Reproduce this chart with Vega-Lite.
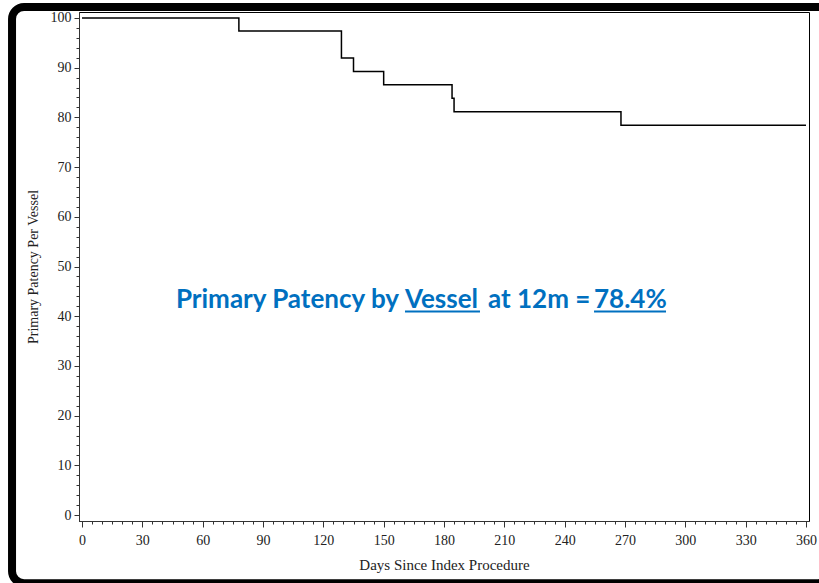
{
  "$schema": "https://vega.github.io/schema/vega-lite/v6.json",
  "width": 730,
  "height": 509,
  "autosize": {"type": "none"},
  "padding": {"left": 79, "top": 12, "right": 10, "bottom": 62},
  "background": "white",
  "resolve": {"axis": {"x": "independent", "y": "independent"}},
  "config": {
    "view": {"stroke": "black", "strokeWidth": 1},
    "axis": {
      "labelFont": "Liberation Serif",
      "titleFont": "Liberation Serif",
      "labelFontSize": 14,
      "titleFontSize": 14,
      "titleFontWeight": "normal",
      "labelColor": "#222",
      "titleColor": "#222",
      "domainColor": "#333",
      "tickColor": "#333",
      "grid": false
    }
  },
  "datasets": {
    "km": [
      {"day": 0, "pct": 100},
      {"day": 78, "pct": 97.37},
      {"day": 129, "pct": 91.96},
      {"day": 135, "pct": 89.25},
      {"day": 150, "pct": 86.55},
      {"day": 184, "pct": 83.84},
      {"day": 185, "pct": 81.14},
      {"day": 268, "pct": 78.4},
      {"day": 360, "pct": 78.4}
    ],
    "label": [
      {"seg": "Primary Patency by", "day": 46.7, "pct": 41.65},
      {"seg": "Vessel", "day": 160.6, "pct": 41.65},
      {"seg": "at 12m =", "day": 201.9, "pct": 41.65},
      {"seg": "78.4%", "day": 254.6, "pct": 41.65}
    ],
    "underline": [
      {"day": 160.6, "day2": 197.9, "pct": 40.95},
      {"day": 254.6, "day2": 290.4, "pct": 40.95}
    ]
  },
  "layer": [
    {
      "data": {"name": "km"},
      "mark": {"type": "line", "opacity": 0},
      "encoding": {
        "x": {
          "field": "day", "type": "quantitative",
          "scale": {"domain": [-1.5, 361.5], "nice": false, "zero": false},
          "axis": {
            "orient": "bottom",
            "title": null,
            "domain": false,
            "labels": false,
            "values": [5,10,15,20,25,35,40,45,50,55,65,70,75,80,85,95,100,105,110,115,125,130,135,140,145,155,160,165,170,175,185,190,195,200,205,215,220,225,230,235,245,250,255,260,265,275,280,285,290,295,305,310,315,320,325,335,340,345,350,355],
            "tickSize": 3
          }
        },
        "y": {
          "field": "pct", "type": "quantitative",
          "scale": {"domain": [-1.2, 101.2], "nice": false, "zero": false},
          "axis": {
            "orient": "left",
            "title": null,
            "domain": false,
            "labels": false,
            "values": [2,4,6,8,12,14,16,18,22,24,26,28,32,34,36,38,42,44,46,48,52,54,56,58,62,64,66,68,72,74,76,78,82,84,86,88,92,94,96,98],
            "tickSize": 3
          }
        }
      }
    },
    {
      "data": {"name": "km"},
      "mark": {"type": "line", "interpolate": "step-after", "color": "black", "strokeWidth": 1.5},
      "encoding": {
        "x": {
          "field": "day", "type": "quantitative",
          "axis": {
            "orient": "bottom",
            "title": "Days Since Index Procedure",
            "titleFontSize": 15,
            "values": [0,30,60,90,120,150,180,210,240,270,300,330,360],
            "labelFlush": false,
            "tickSize": 6,
            "labelPadding": 6,
            "titlePadding": 10
          }
        },
        "y": {
          "field": "pct", "type": "quantitative",
          "axis": {
            "orient": "left",
            "title": "Primary Patency Per Vessel",
            "values": [0,10,20,30,40,50,60,70,80,90,100],
            "labelFlush": false,
            "tickSize": 5,
            "labelPadding": 3,
            "titlePadding": 10
          }
        }
      }
    },
    {
      "data": {"name": "label"},
      "mark": {"type": "text", "align": "left", "baseline": "alphabetic", "font": "Lato", "fontWeight": "bold", "fontSize": 26, "color": "#0070C0"},
      "encoding": {
        "x": {"field": "day", "type": "quantitative", "axis": null},
        "y": {"field": "pct", "type": "quantitative", "axis": null},
        "text": {"field": "seg"}
      }
    },
    {
      "data": {"name": "underline"},
      "mark": {"type": "rule", "color": "#0070C0", "strokeWidth": 2},
      "encoding": {
        "x": {"field": "day", "type": "quantitative", "axis": null},
        "x2": {"field": "day2"},
        "y": {"field": "pct", "type": "quantitative", "axis": null}
      }
    },
    {
      "data": {"values": [{}]},
      "mark": {"type": "rect", "fill": null, "stroke": "black", "strokeWidth": 8, "cornerRadius": 12, "clip": false},
      "encoding": {
        "x": {"datum": -34.8, "type": "quantitative", "axis": null},
        "x2": {"datum": 372},
        "y": {"datum": 102.2, "type": "quantitative", "axis": null},
        "y2": {"datum": -13.7}
      }
    }
  ]
}
